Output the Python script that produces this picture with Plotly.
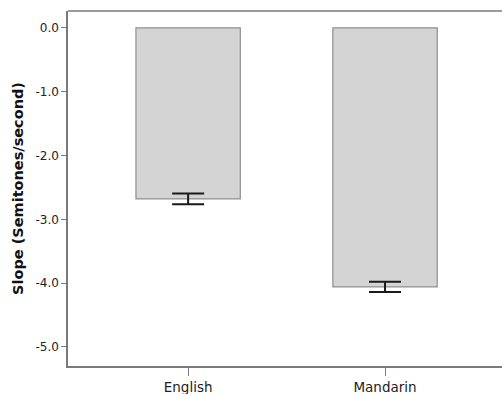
import plotly.graph_objects as go

# Mean pitch slope by language, with standard-error bars
languages = ["English", "Mandarin"]
slope_means = [-2.68, -4.06]
slope_errors = [0.085, 0.08]
y_tick_values = [0.0, -1.0, -2.0, -3.0, -4.0, -5.0]
y_tick_labels = ["0.0", "-1.0", "-2.0", "-3.0", "-4.0", "-5.0"]

axis_grey = "#7a7a7a"
text_dark = "#222222"

fig = go.Figure()
fig.add_trace(go.Bar(
    x=languages,
    y=slope_means,
    width=0.53,
    marker=dict(color="#d4d4d4", line=dict(color="#8f8f8f", width=1.2)),
    error_y=dict(type="data", array=slope_errors, symmetric=True,
                 color="#1a1a1a", thickness=2, width=16),
    showlegend=False,
))

fig.update_layout(
    width=502, height=394, autosize=False,
    margin=dict(l=68, r=0, t=11, b=28, pad=0),
    plot_bgcolor="white", paper_bgcolor="white",
    xaxis=dict(
        type="category",
        range=[-0.61, 1.594],
        automargin=False,
        showline=True, linecolor=axis_grey, linewidth=1.5,
        ticks="outside", ticklen=8, tickcolor=axis_grey, tickwidth=1.2,
        showgrid=False, zeroline=False,
        tickfont=dict(family="DejaVu Sans", size=13.5, color=text_dark),
    ),
    yaxis=dict(
        range=[-5.30, 0.266],
        automargin=False,
        tickvals=y_tick_values, ticktext=y_tick_labels,
        showline=True, linecolor=axis_grey, linewidth=1.5,
        ticks="outside", ticklen=5, tickcolor=axis_grey, tickwidth=1.2,
        showgrid=False, zeroline=False,
        tickfont=dict(family="DejaVu Sans", size=12, color=text_dark),
        title=dict(text="Slope (Semitones/second)",
                   font=dict(family="DejaVu Sans", size=14.5, color="#111111",
                             weight="bold"),
                   standoff=8),
    ),
)

# Top frame line; the right-hand side of the frame stays open
fig.add_shape(type="line", xref="paper", yref="paper",
              x0=0, x1=1, y0=1, y1=1,
              line=dict(color=axis_grey, width=1.5))
# Keep the right edge of the plotting area clean
fig.add_shape(type="rect", xref="paper", yref="paper", layer="above",
              x0=0.993, x1=1.0, y0=0.006, y1=0.996,
              fillcolor="white", line=dict(width=0))

fig.write_html("out.html", config={"displayModeBar": False})
